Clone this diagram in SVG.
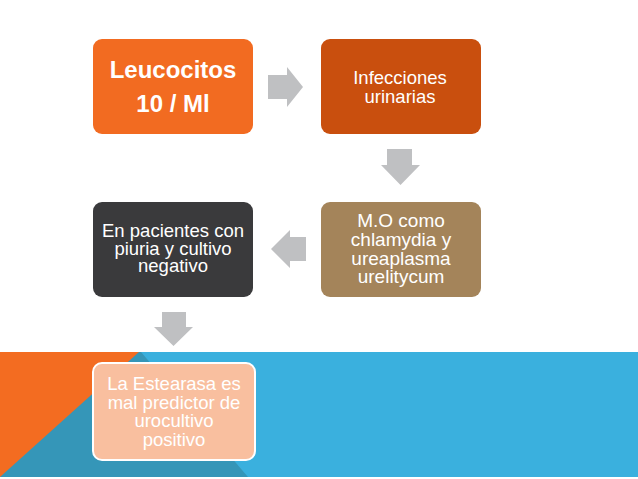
<svg xmlns="http://www.w3.org/2000/svg" width="638" height="479" viewBox="0 0 638 479">
<style>
.t{font-family:"Liberation Sans",Arial,sans-serif;fill:#fff;text-anchor:middle}
.b{font-size:24px;font-weight:bold}
.m{font-size:18.5px}
.arr{fill:#BFC0C2}
</style>
<rect width="638" height="479" fill="#fff"/>
<g id="background">
<rect x="0" y="352" width="638" height="125" fill="#3AB0DE"/>
<polygon points="0,352 141,352 248,477 0,477" fill="#3596B8"/>
<polygon points="0,352 139,352 0,477" fill="#F36C21"/>
</g>
<g id="connectors">
<path class="arr" d="M268,75 H287 V67 L303,87 L287,107 V99 H268 Z"/>
<path class="arr" d="M387,149 H412 V165 H420 L400.5,185 L381,165 H387 Z"/>
<path class="arr" d="M306,237 H290 V230 L271,249 L290,268 V261 H306 Z"/>
<path class="arr" d="M162,312 H186 V327 H193 L173.5,346 L154,327 H162 Z"/>
</g>
<g id="n1">
<rect x="93" y="39" width="160" height="95" rx="9" fill="#F26B21"/>
<text class="t b" x="173" y="78">Leucocitos</text>
<text class="t b" x="173" y="112">10 / Ml</text>
</g>
<g id="n2">
<rect x="321" y="39" width="160" height="95" rx="9" fill="#C94F0E"/>
<text class="t m" x="400" y="84">Infecciones</text>
<text class="t m" x="400" y="103">urinarias</text>
</g>
<g id="n3">
<rect x="93" y="202" width="160" height="95" rx="9" fill="#3A3A3C"/>
<text class="t m" x="173" y="237">En pacientes con</text>
<text class="t m" x="173" y="254.5">piuria y cultivo</text>
<text class="t m" x="173" y="272">negativo</text>
</g>
<g id="n4">
<rect x="321" y="202" width="160" height="95" rx="9" fill="#A4845A"/>
<text class="t m" x="401" y="227" style="font-size:19px">M.O como</text>
<text class="t m" x="401" y="245.5" style="font-size:19px">chlamydia y</text>
<text class="t m" x="401" y="264.5" style="font-size:19px">ureaplasma</text>
<text class="t m" x="401" y="283" style="font-size:19px">urelitycum</text>
</g>
<g id="n5">
<rect x="93" y="363" width="162" height="97" rx="9" fill="#F9BF9F" stroke="#fff" stroke-width="2"/>
<text class="t m" x="174" y="390">La Estearasa es</text>
<text class="t m" x="174" y="408.5">mal predictor de</text>
<text class="t m" x="174" y="427">urocultivo</text>
<text class="t m" x="174" y="445.5">positivo</text>
</g>
</svg>
